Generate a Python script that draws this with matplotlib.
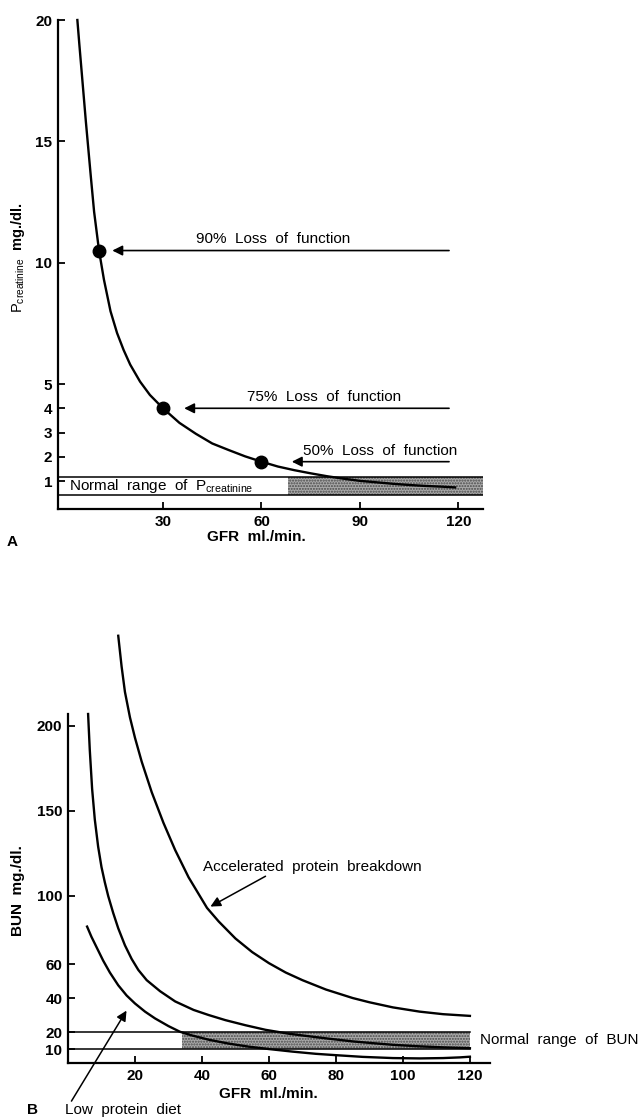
import matplotlib
matplotlib.use('Agg')
import matplotlib.pyplot as plt

plt.rcParams['font.family'] = ['Liberation Sans', 'DejaVu Sans']
plt.rcParams['mathtext.fontset'] = 'custom'
plt.rcParams['mathtext.rm'] = 'Liberation Sans'
plt.rcParams['mathtext.it'] = 'Liberation Sans:italic'
plt.rcParams['mathtext.bf'] = 'Liberation Sans:bold'

# ---- panel A: plasma creatinine vs GFR ----
gfr_a = [3.9, 4.5, 5.0, 5.5, 6.0, 6.5, 7.1, 8.0, 9.0, 10.5, 12, 14, 16, 18, 20, 23, 26, 30,
         35, 40, 45, 50, 55, 60, 65, 70, 75, 80, 85, 90, 95, 100, 105, 110, 115, 119]
pcr_a = [20.0, 19.0, 18.2, 17.4, 16.6, 15.8, 14.9, 13.55, 12.1, 10.5, 9.3, 8.0, 7.1, 6.4, 5.8,
         5.1, 4.55, 4.0, 3.4, 2.95, 2.55, 2.28, 2.02, 1.8, 1.6, 1.45, 1.32, 1.2, 1.1, 1.01,
         0.95, 0.89, 0.84, 0.8, 0.77, 0.74]

loss_labels = ['90%  Loss  of  function', '75%  Loss  of  function', '50%  Loss  of  function']
loss_gfr = [10.5, 30, 60]
loss_pcr = [10.5, 4.0, 1.8]
loss_tip = [13.7, 35.6, 68.4]
loss_text_x = [63.7, 79, 96.2]
loss_line_end = 118

normal_pcr = [0.42, 1.15]
shade_a = [68, 127.5]
xticks_a = [30, 60, 90, 120]
yticks_a = [1, 2, 3, 4, 5, 10, 15, 20]

# ---- panel B: BUN vs GFR ----
gfr_accel = [15, 16, 17, 18.5, 20, 22, 25, 28.5, 32, 36, 41.5, 45, 50, 55, 60, 65, 70, 77,
             85, 90, 97, 105, 112, 120]
bun_accel = [253, 235, 220, 205, 193, 179, 161, 143, 127, 111, 93, 85, 75, 67, 60.5, 55, 50.5,
             45, 40, 37.5, 34.5, 32, 30.5, 29.5]

gfr_norm = [6, 6.5, 7.2, 8, 9, 10, 11, 12, 13.5, 15, 17, 19, 21, 23.5, 27.5, 32, 37.5, 42, 47,
            53, 59, 66, 72, 77, 85, 92, 97, 105, 112, 120]
bun_norm = [207, 186, 163, 145, 129, 117, 108, 100, 90, 81, 71, 63, 56.5, 50.5, 44, 38, 33, 30,
            27, 24, 21.3, 19, 17.5, 16.3, 14.5, 13.3, 12.5, 11.6, 11, 10.5]

gfr_low = [5.7, 7, 8.5, 10.5, 12.5, 15, 17.5, 20, 23, 26, 30, 33.4, 37, 42, 48, 54, 60, 67, 74,
           80, 88, 97, 105, 112, 117, 120]
bun_low = [82, 76, 70, 62, 55, 47.5, 41.5, 36.8, 32, 28, 23.5, 20.2, 18, 15.5, 13.2, 11.4, 10,
           8.5, 7.2, 6.4, 5.4, 4.7, 4.5, 4.7, 5.1, 5.5]

normal_bun = [10, 20]
shade_b = [34, 120]
xticks_b = [20, 40, 60, 80, 100, 120]
yticks_b = [10, 20, 40, 60, 100, 150, 200]

W, H = 642, 1118
fig = plt.figure(figsize=(W / 100, H / 100), dpi=100)

def style_axes(ax):
    for side in ['top', 'right']:
        ax.spines[side].set_visible(False)
    for side in ['left', 'bottom']:
        ax.spines[side].set_linewidth(1.6)
    ax.tick_params(direction='in', length=5, width=1.3, labelsize=11, pad=4)
    for lab in ax.get_xticklabels() + ax.get_yticklabels():
        lab.set_fontweight('bold')

shade_kw = dict(facecolor='#a9a9a9', hatch='......', edgecolor='#4a4a4a', linewidth=0)

# panel A
axA = fig.add_axes([58 / W, 1 - 509 / H, 425 / W, 489 / H])
axA.set_xlim(-2, 127.5)
axA.set_ylim(-0.15, 20)
axA.set_xticks(xticks_a)
axA.set_yticks(yticks_a)
style_axes(axA)

axA.fill_between(shade_a, normal_pcr[0], normal_pcr[1], **shade_kw)
for yv in normal_pcr:
    axA.plot([-2, 127.5], [yv, yv], color='black', lw=1.1)
axA.plot(gfr_a, pcr_a, color='black', lw=1.7, clip_on=False)
axA.plot(loss_gfr, loss_pcr, 'o', color='black', ms=9)

for lab, yv, tip, tx in zip(loss_labels, loss_pcr, loss_tip, loss_text_x):
    axA.annotate('', xy=(tip, yv), xytext=(loss_line_end, yv),
                 arrowprops=dict(arrowstyle='-|>', color='black', lw=1.2, mutation_scale=15))
    axA.text(tx, yv + 0.17, lab, ha='center', va='bottom', fontsize=11)

axA.text(1.2, 0.8, r'Normal  range  of  $\mathrm{P_{creatinine}}$', ha='left', va='center',
         fontsize=11)

fig.text(18 / W, 1 - 258 / H, r'$\mathrm{P_{creatinine}}$  mg./dl.', rotation=90,
         ha='center', va='center', fontsize=10.5, fontweight='bold')
fig.text(256 / W, 1 - 537 / H, 'GFR  ml./min.', ha='center', va='center', fontsize=11,
         fontweight='bold')
fig.text(12 / W, 1 - 542 / H, 'A', ha='center', va='center', fontsize=11, fontweight='bold')

# panel B
axB = fig.add_axes([68 / W, 1 - 1063 / H, 422 / W, 349 / H])
axB.set_xlim(0, 126)
axB.set_ylim(1.8, 207)
axB.set_xticks(xticks_b)
axB.set_yticks(yticks_b)
style_axes(axB)

axB.fill_between(shade_b, normal_bun[0], normal_bun[1], **shade_kw)
for yv in normal_bun:
    axB.plot([0, 120], [yv, yv], color='black', lw=1.1)
axB.plot(gfr_accel, bun_accel, color='black', lw=1.7, clip_on=False)
axB.plot(gfr_norm, bun_norm, color='black', lw=1.7, clip_on=False)
axB.plot(gfr_low, bun_low, color='black', lw=1.7, clip_on=False)

axB.text(40.3, 117, 'Accelerated  protein  breakdown', ha='left', va='center', fontsize=11)
axB.annotate('', xy=(41.8, 93), xytext=(59.7, 112.4),
             arrowprops=dict(arrowstyle='-|>', color='black', lw=1.1, mutation_scale=15))
axB.text(123, 15.3, 'Normal  range  of  BUN', ha='left', va='center', fontsize=11, clip_on=False)
axB.annotate('', xy=(17.9, 34), xytext=(0.6, -22),
             arrowprops=dict(arrowstyle='-|>', color='black', lw=1.1, mutation_scale=15),
             annotation_clip=False)

fig.text(18 / W, 1 - 891 / H, 'BUN  mg./dl.', rotation=90, ha='center', va='center',
         fontsize=11, fontweight='bold')
fig.text(268 / W, 1 - 1094 / H, 'GFR  ml./min.', ha='center', va='center', fontsize=11,
         fontweight='bold')
fig.text(32 / W, 1 - 1110 / H, 'B', ha='center', va='center', fontsize=11, fontweight='bold')
fig.text(65 / W, 1 - 1110 / H, 'Low  protein  diet', ha='left', va='center', fontsize=11)

fig.savefig('out.png', dpi=100)
